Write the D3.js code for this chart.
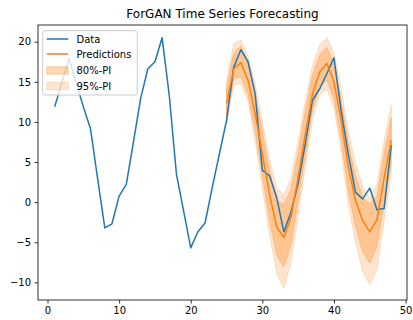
<!DOCTYPE html>
<html>
<head>
<meta charset="utf-8">
<script src="https://cdn.jsdelivr.net/npm/d3@7"></script>
<style>
  html, body { margin: 0; padding: 0; background: #fff; }
  svg { display: block; font-family: "DejaVu Sans", sans-serif; }
</style>
</head>
<body>
<svg id="chart" width="413" height="320"></svg>
<script>
// Observed series, time steps 1..48
const dataT = d3.range(1, 49);
const dataValues = [11.9, 14.9, 17.9, 14.9, 11.9, 9.15, 2.9, -3.2, -2.7, 0.75,
  2.2, 7.5, 12.9, 16.6, 17.5, 20.5, 13.3, 3.5, -1.1, -5.7,
  -3.7, -2.6, 1.8, 6.0, 10.2, 16.8, 19.0, 17.5, 13.5, 3.95,
  3.3, 0.6, -3.7, -1.25, 2.3, 7.3, 12.7, 14.1, 16.0, 18.0,
  11.4, 6.0, 1.25, 0.4, 1.75, -0.95, -0.8, 7.1];

// Forecast horizon, time steps 25..48
const predT = d3.range(25, 49);
const predValues = [12.3, 16.6, 17.4, 15.2, 11.0, 6.0, 1.0, -3.1, -4.4, -1.9,
  3.1, 8.5, 13.5, 16.2, 17.3, 15.0, 10.2, 4.4, 0.2, -2.3,
  -3.7, -2.2, 3.0, 7.7];
const lo95 = [9.6, 14.6, 14.8, 12.6, 7.6, 1.8, -4.0, -8.8, -10.8, -7.6,
  -1.6, 4.4, 10.2, 13.4, 14.1, 11.8, 6.4, -0.2, -5.0, -8.6,
  -10.3, -8.5, -2.4, 3.4];
const lo80 = [10.6, 15.4, 15.6, 13.4, 8.8, 3.2, -2.2, -6.6, -8.1, -5.4,
  0.2, 5.8, 11.4, 14.4, 15.2, 12.9, 7.8, 1.4, -3.0, -6.2,
  -7.6, -5.6, -0.4, 4.9];
const hi80 = [14.2, 18.6, 19.4, 17.4, 13.4, 8.8, 4.0, 0.2, -0.3, 1.6,
  6.2, 11.4, 15.8, 18.4, 19.3, 17.3, 12.8, 7.4, 3.2, 0.6,
  -0.2, 0.8, 6.0, 10.5];
const hi95 = [15.2, 19.8, 20.2, 18.2, 14.6, 10.0, 5.4, 1.8, 0.9, 3.0,
  7.6, 12.6, 17.0, 19.6, 20.5, 18.6, 14.2, 8.8, 4.8, 2.0,
  0.4, 2.2, 7.6, 12.1];

const xTicks = [0, 10, 20, 30, 40, 50];
const yTicks = [-10, -5, 0, 5, 10, 15, 20];

const titleText = "ForGAN Time Series Forecasting";
const legendLabels = ["Data", "Predictions", "80%-PI", "95%-PI"];

const blue = "#1f77b4";
const orange = "#ff7f0e";

const svg = d3.select("#chart");
const plot = { left: 38, right: 407, top: 25, bottom: 300 };

const x = d3.scaleLinear().domain([-1.33, 50.2]).range([plot.left, plot.right]);
const y = d3.scaleLinear().domain([-12.2, 22.08]).range([plot.bottom, plot.top]);

const clip = svg.append("defs").append("clipPath").attr("id", "plotclip")
  .append("rect")
  .attr("x", plot.left).attr("y", plot.top)
  .attr("width", plot.right - plot.left).attr("height", plot.bottom - plot.top);

const g = svg.append("g").attr("clip-path", "url(#plotclip)");

// Prediction intervals
const band = (lo, hi) => d3.area()
  .x((d, i) => x(predT[i]))
  .y0((d, i) => y(lo[i]))
  .y1((d, i) => y(hi[i]));

g.append("path")
  .datum(predT)
  .attr("d", band(lo95, hi95))
  .attr("fill", orange).attr("fill-opacity", 0.2)
  .attr("stroke", orange).attr("stroke-opacity", 0.2).attr("stroke-width", 1);

g.append("path")
  .datum(predT)
  .attr("d", band(lo80, hi80))
  .attr("fill", orange).attr("fill-opacity", 0.3)
  .attr("stroke", orange).attr("stroke-opacity", 0.3).attr("stroke-width", 1);

// Lines
const line = (tArr) => d3.line().x((d, i) => x(tArr[i])).y(d => y(d));

g.append("path")
  .datum(dataValues)
  .attr("d", line(dataT))
  .attr("fill", "none").attr("stroke", blue).attr("stroke-width", 1.5)
  .attr("stroke-linejoin", "round");

g.append("path")
  .datum(predValues)
  .attr("d", line(predT))
  .attr("fill", "none").attr("stroke", orange).attr("stroke-width", 1.5)
  .attr("stroke-linejoin", "round");

// Axes
const xAxis = svg.append("g")
  .attr("transform", `translate(0,${plot.bottom})`)
  .call(d3.axisBottom(x).tickValues(xTicks).tickSize(3.5).tickPadding(3.5).tickFormat(d3.format("d")));
const yAxis = svg.append("g")
  .attr("transform", `translate(${plot.left},0)`)
  .call(d3.axisLeft(y).tickValues(yTicks).tickSize(3.5).tickPadding(3.5)
    .tickFormat(d => d < 0 ? "\u2212" + Math.abs(d) : d));

[xAxis, yAxis].forEach(a => {
  a.select(".domain").remove();
  a.selectAll(".tick line").attr("stroke", "#000").attr("stroke-width", 0.8);
  a.selectAll(".tick text").attr("font-size", 10).attr("fill", "#000")
    .attr("font-family", "DejaVu Sans, sans-serif");
});

// Frame
svg.append("rect")
  .attr("x", plot.left).attr("y", plot.top)
  .attr("width", plot.right - plot.left).attr("height", plot.bottom - plot.top)
  .attr("fill", "none").attr("stroke", "#000").attr("stroke-width", 0.8);

// Title
svg.append("text")
  .attr("x", (plot.left + plot.right) / 2).attr("y", 17.5)
  .attr("text-anchor", "middle").attr("font-size", 12).attr("fill", "#000")
  .text(titleText);

// Legend
const lg = svg.append("g");
lg.append("rect")
  .attr("x", 42.7).attr("y", 30.7).attr("width", 94.6).attr("height", 64.3)
  .attr("rx", 2.5)
  .attr("fill", "#fff").attr("fill-opacity", 0.8)
  .attr("stroke", "#ccc").attr("stroke-width", 1);

const rowY = [39, 54, 70.5, 86];
lg.append("line").attr("x1", 46.7).attr("x2", 68.3).attr("y1", rowY[0]).attr("y2", rowY[0])
  .attr("stroke", blue).attr("stroke-width", 1.5);
lg.append("line").attr("x1", 46.7).attr("x2", 68.3).attr("y1", rowY[1]).attr("y2", rowY[1])
  .attr("stroke", orange).attr("stroke-width", 1.5);
lg.append("rect").attr("x", 46.7).attr("y", rowY[2] - 3.7).attr("width", 21.6).attr("height", 7.4)
  .attr("fill", orange).attr("fill-opacity", 0.3)
  .attr("stroke", orange).attr("stroke-opacity", 0.3).attr("stroke-width", 1);
lg.append("rect").attr("x", 46.7).attr("y", rowY[3] - 3.7).attr("width", 21.6).attr("height", 7.4)
  .attr("fill", orange).attr("fill-opacity", 0.2)
  .attr("stroke", orange).attr("stroke-opacity", 0.2).attr("stroke-width", 1);

legendLabels.forEach((t, i) => {
  lg.append("text").attr("x", 76.5).attr("y", rowY[i]).attr("dy", "0.35em")
    .attr("font-size", 10).attr("fill", "#000").text(t);
});
</script>
</body>
</html>
